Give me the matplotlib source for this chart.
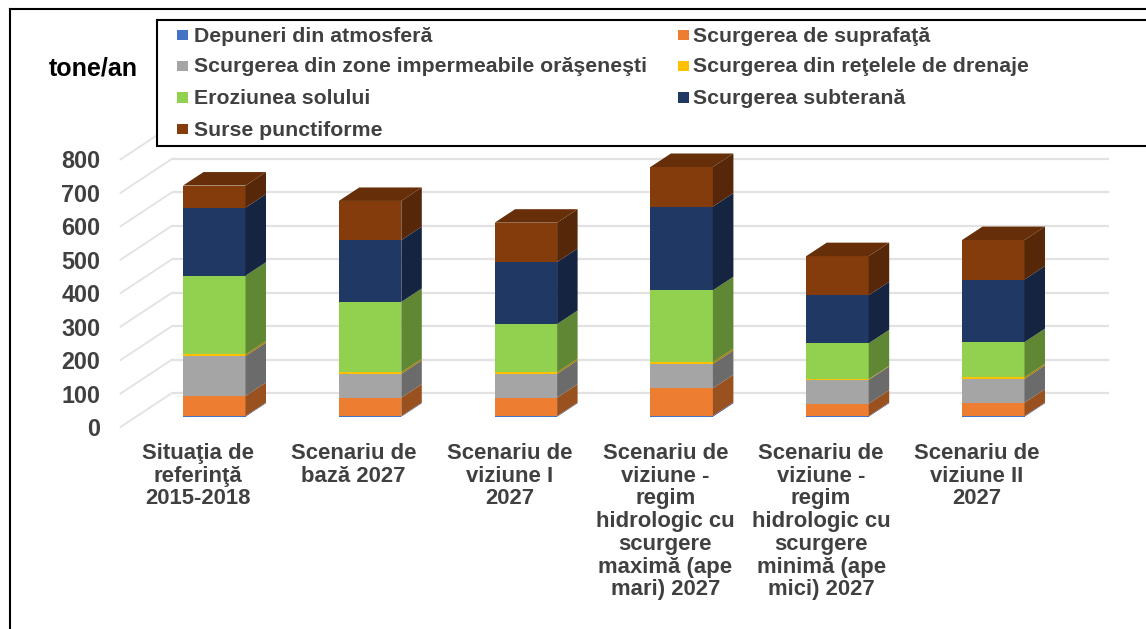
#!/usr/bin/env python
import matplotlib
matplotlib.use('Agg')
import matplotlib.pyplot as pyplot
from matplotlib.colors import to_rgb
from matplotlib.lines import Line2D
from matplotlib.patches import Rectangle
import numpy

categories = ['Situaţia de\nreferinţă\n2015-2018',
              'Scenariu de\nbază 2027',
              'Scenariu de\nviziune I\n2027',
              'Scenariu de\nviziune -\nregim\nhidrologic cu\nscurgere\nmaximă (ape\nmari) 2027',
              'Scenariu de\nviziune -\nregim\nhidrologic cu\nscurgere\nminimă (ape\nmici) 2027',
              'Scenariu de\nviziune II\n2027']
yticks = [0, 100, 200, 300, 400, 500, 600, 700, 800]

series_names = ['Depuneri din atmosferă', 'Scurgerea de suprafaţă',
                'Scurgerea din zone impermeabile orăşeneşti', 'Scurgerea din reţelele de drenaje',
                'Eroziunea solului', 'Scurgerea subterană', 'Surse punctiforme']
depuneri = [2, 2, 2, 3, 2, 2]
suprafata = [60, 55, 55, 82, 37, 40]
impermeabile = [119, 71, 71, 72.5, 71, 71]
drenaje = [5, 5, 5, 5.5, 2, 5]
eroziune = [235.5, 210, 144, 215, 107.5, 105]
subterana = [203.5, 185, 185.5, 250, 143.5, 187]
punctiforme = [66, 117, 117.5, 118.5, 117, 118]
series = [depuneri, suprafata, impermeabile, drenaje, eroziune, subterana, punctiforme]
colors = ['#4472C4', '#ED7D31', '#A5A5A5', '#FFC000', '#92D050', '#1F3864', '#843C0C']

W, H = 1146, 629
# the 3d look is faked: pixel geometry of the original chart
x_first = 214.25    # centre of first bar, px
x_step = 155.8      # px between bars
bar_px = 62.5
y_zero = 416.7      # front of bars at value 0, px
y_scale = 0.3345    # px per unit
text_c = '#404040'
font = 'Liberation Sans'


def shade(color, k):
    return tuple(c*k for c in to_rgb(color))


def fx(px):
    return px/W


def fy(py):
    return 1-py/H


def main():
    f = pyplot.figure(figsize=(W/100, H/100), dpi=100)
    ax = f.add_axes([0, 0, 1, 1])
    ax.set_xlim((0-x_first)/x_step, (W-x_first)/x_step)
    ax.set_ylim((y_zero-H)/y_scale, y_zero/y_scale)
    ax.axis('off')

    dx = 20.5/x_step       # bar depth
    dy = 13.5/y_scale
    width = bar_px/x_step
    wall_y = (y_zero-393)/y_scale     # value 0 on back wall
    front_y = (y_zero-427)/y_scale    # value 0 at front edge
    wall_x = (172-x_first)/x_step
    edge_x = (120.5-x_first)/x_step
    right_x = (1109-x_first)/x_step
    label_shift = 2.5/y_scale         # tick text sits a bit lower than va=center

    for t in yticks:
        ax.plot([wall_x, right_x], [wall_y+t, wall_y+t], color='#E2E2E2', lw=1.6, zorder=1, solid_capstyle='butt')
        ax.plot([edge_x, wall_x], [front_y+t, wall_y+t], color='#E2E2E2', lw=1.3, zorder=1)
        ax.text(edge_x-0.13, front_y+t-label_shift, str(t), ha='right', va='center', family=font,
                weight='bold', size=16.8, color=text_c, zorder=5)

    xs = numpy.arange(len(categories))
    bottom = numpy.zeros(len(categories))
    for vals, c in zip(series, colors):
        vals = numpy.array(vals, dtype=float)
        ax.bar(xs, vals, width=width, bottom=bottom, color=c, linewidth=0, zorder=3)
        for x, b, v in zip(xs, bottom, vals):
            r = x+width/2
            ax.fill([r, r+dx, r+dx, r], [b, b+dy, b+v+dy, b+v], color=shade(c, 0.65), linewidth=0, zorder=3)
        bottom = bottom+vals
    # top face, only the last series is seen
    for x, top in zip(xs, bottom):
        l, r = x-width/2, x+width/2
        ax.fill([l, r, r+dx, l+dx], [top, top, top+dy, top+dy], color=shade(colors[-1], 0.78), linewidth=0, zorder=3)

    for x, label in zip(xs, categories):
        ax.text(x-0.105, (y_zero-443)/y_scale, label, ha='center', va='top', family=font, weight='bold',
                size=15.9, color=text_c, linespacing=1.107, zorder=5)

    # legend box runs off the right side of the picture
    f.add_artist(Rectangle((fx(157), fy(145.5)), fx(1000), fy(20)-fy(145.5), facecolor='white',
                           edgecolor='black', lw=1.5, zorder=6))
    rows = [35, 35, 66, 66, 97.5, 97.5, 129]
    for i, (name, c) in enumerate(zip(series_names, colors)):
        col = i % 2
        mx = [177, 678][col]
        tx = [194, 693][col]
        f.add_artist(Rectangle((fx(mx), fy(rows[i]+5)), 10.5/W, 10/H, facecolor=c, edgecolor='none', zorder=7))
        f.text(fx(tx), fy(rows[i]+1), name, ha='left', va='center', family=font, weight='bold',
               size=15.3, color=text_c, zorder=7)

    f.text(fx(93), fy(68), 'tone/an', ha='center', va='center', family=font, weight='bold',
           size=18, color='black', zorder=7)

    # outer frame, only left and top show
    f.add_artist(Line2D([fx(10), fx(10)], [fy(9), 0], color='black', lw=1.5, zorder=8))
    f.add_artist(Line2D([fx(10), 1], [fy(9), fy(9)], color='black', lw=1.5, zorder=8))

    pyplot.savefig('out.png', dpi=100)


if __name__ == "__main__":
    main()
